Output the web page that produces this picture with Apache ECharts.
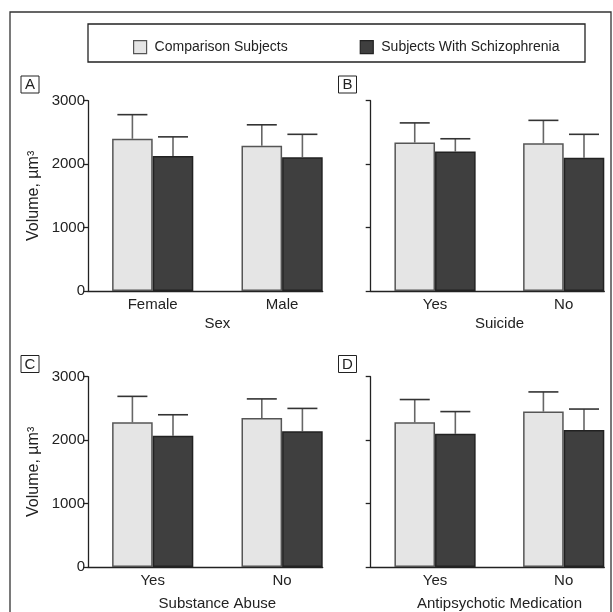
<!DOCTYPE html>
<html>
<head>
<meta charset="utf-8">
<script src="https://cdn.jsdelivr.net/npm/echarts@6/dist/echarts.min.js"></script>
<style>
  html, body { margin: 0; padding: 0; background: #fff; }
  #chart { width: 613px; height: 612px; }
</style>
</head>
<body>
<div id="chart"></div>
<script>
// ---------------- data ----------------
const seriesNames = ['Comparison Subjects', 'Subjects With Schizophrenia'];
const yTicks = [0, 1000, 2000, 3000];

const sexCategories = ['Female', 'Male'];
const sexComparison = [2400, 2290];
const sexComparisonSD = [380, 330];
const sexSchizophrenia = [2130, 2110];
const sexSchizophreniaSD = [300, 360];

const suicideCategories = ['Yes', 'No'];
const suicideComparison = [2340, 2330];
const suicideComparisonSD = [310, 360];
const suicideSchizophrenia = [2200, 2100];
const suicideSchizophreniaSD = [200, 370];

const abuseCategories = ['Yes', 'No'];
const abuseComparison = [2280, 2350];
const abuseComparisonSD = [410, 300];
const abuseSchizophrenia = [2070, 2140];
const abuseSchizophreniaSD = [330, 360];

const medCategories = ['Yes', 'No'];
const medComparison = [2280, 2450];
const medComparisonSD = [360, 310];
const medSchizophrenia = [2100, 2160];
const medSchizophreniaSD = [350, 330];

const panelTitles = ['Sex', 'Suicide', 'Substance Abuse', 'Antipsychotic Medication'];
const panelLetters = ['A', 'B', 'C', 'D'];

// ---------------- layout / style ----------------
const FONT = '"Liberation Sans", Arial, sans-serif';
const FS = 15;
const BAR_W = 40.6;
const CAP_W = 30;
const groupPos = [0.5, 1.5];
const compColor = '#e5e5e5';
const schizColor = '#3f3f3f';

const grids = [
  { left: 88, top: 100.7, width: 234.7, height: 190.3 },
  { left: 370.7, top: 100.7, width: 233.6, height: 190.3 },
  { left: 88, top: 376.7, width: 234.7, height: 191 },
  { left: 370.7, top: 376.7, width: 233.6, height: 191 }
];
const letterBoxes = [
  { x: 21, y: 76 }, { x: 338.5, y: 76 }, { x: 21, y: 355.5 }, { x: 338.5, y: 355.5 }
];

const panels = [
  { cats: sexCategories, comp: sexComparison, compSD: sexComparisonSD, sch: sexSchizophrenia, schSD: sexSchizophreniaSD },
  { cats: suicideCategories, comp: suicideComparison, compSD: suicideComparisonSD, sch: suicideSchizophrenia, schSD: suicideSchizophreniaSD },
  { cats: abuseCategories, comp: abuseComparison, compSD: abuseComparisonSD, sch: abuseSchizophrenia, schSD: abuseSchizophreniaSD },
  { cats: medCategories, comp: medComparison, compSD: medComparisonSD, sch: medSchizophrenia, schSD: medSchizophreniaSD }
];

const chart = echarts.init(document.getElementById('chart'), null, { renderer: 'canvas' });

const xAxes = [], yAxes = [], series = [], gridOpts = [];
panels.forEach((p, i) => {
  const g = grids[i];
  const unit = (g.width - BAR_W) / 1.5;
  const xMax = g.width / unit;
  gridOpts.push({ left: g.left, top: g.top, width: g.width, height: g.height, containLabel: false });
  xAxes.push({
    type: 'value', gridIndex: i, min: 0, max: xMax,
    axisLine: { show: true, onZero: false, lineStyle: { color: '#222', width: 1.3 } },
    axisTick: { show: false },
    splitLine: { show: false },
    axisLabel: {
      customValues: groupPos,
      formatter: (v) => { const k = groupPos.indexOf(v); return k >= 0 ? p.cats[k] : ''; },
      color: '#222', fontFamily: FONT, fontSize: FS, margin: 6
    },
    name: panelTitles[i], nameLocation: 'middle', nameGap: i < 2 ? 25 : 29,
    nameTextStyle: { color: '#222', fontFamily: FONT, fontSize: FS, padding: [0, 0, 0, 24] }
  });
  const showLabels = (i % 2 === 0);
  yAxes.push({
    type: 'value', gridIndex: i, min: yTicks[0], max: yTicks[yTicks.length - 1], interval: 1000,
    axisLine: { show: true, lineStyle: { color: '#222', width: 1.3 } },
    axisTick: { show: true, length: 5, lineStyle: { color: '#222', width: 1.3 } },
    splitLine: { show: false },
    axisLabel: { show: showLabels, color: '#222', fontFamily: FONT, fontSize: FS, margin: 3,
      formatter: (v) => String(v) },
    name: showLabels ? 'Volume, µm³' : '',
    nameLocation: 'middle', nameGap: 46, nameRotate: 90,
    nameTextStyle: { color: '#222', fontFamily: FONT, fontSize: 16 }
  });
  const compData = groupPos.map((x, k) => [x, p.comp[k]]);
  const schData = groupPos.map((x, k) => [x, p.sch[k]]);
  series.push({
    name: seriesNames[0], type: 'bar', xAxisIndex: i, yAxisIndex: i,
    data: compData, barWidth: BAR_W, barGap: '0%',
    itemStyle: { color: compColor, borderColor: '#555', borderWidth: 1.5 },
    z: 2
  });
  series.push({
    name: seriesNames[1], type: 'bar', xAxisIndex: i, yAxisIndex: i,
    data: schData, barWidth: BAR_W, barGap: '0%',
    itemStyle: { color: schizColor, borderColor: '#222', borderWidth: 1.5 },
    z: 2
  });
  const errData = [];
  groupPos.forEach((x, k) => {
    errData.push([x, p.comp[k], p.compSD[k], -1]);
    errData.push([x, p.sch[k], p.schSD[k], 1]);
  });
  series.push({
    type: 'custom', xAxisIndex: i, yAxisIndex: i, z: 1,
    encode: { x: 0, y: 1 },
    silent: true,
    data: errData,
    renderItem: (params, api) => {
      const x = api.value(0), y = api.value(1), sd = api.value(2), side = api.value(3);
      const base = api.coord([x, y]);
      const top = api.coord([x, y + sd]);
      const cx = base[0] + side * BAR_W / 2;
      return {
        type: 'group',
        children: [
          { type: 'line', shape: { x1: cx, y1: base[1], x2: cx, y2: top[1] },
            style: { stroke: '#666', lineWidth: 1.6 } },
          { type: 'line', shape: { x1: cx - CAP_W / 2, y1: top[1], x2: cx + CAP_W / 2, y2: top[1] },
            style: { stroke: '#333', lineWidth: 1.6 } }
        ]
      };
    }
  });
});

const graphics = [
  { type: 'rect', shape: { x: 10, y: 12, width: 601, height: 650 },
    style: { fill: 'none', stroke: '#333', lineWidth: 1.3 }, silent: true },
  { type: 'rect', shape: { x: 88, y: 24, width: 497, height: 38 },
    style: { fill: 'none', stroke: '#222', lineWidth: 1.3 }, silent: true }
];
panelLetters.forEach((L, i) => {
  const b = letterBoxes[i];
  graphics.push({ type: 'rect', shape: { x: b.x, y: b.y, width: 18, height: 17 },
    style: { fill: '#fff', stroke: '#222', lineWidth: 1 }, silent: true });
  graphics.push({ type: 'text', x: b.x + 9, y: b.y + 9,
    style: { text: L, fill: '#222', font: '15px ' + FONT, textAlign: 'center', textVerticalAlign: 'middle' },
    silent: true });
});

chart.setOption({
  animation: false,
  backgroundColor: '#fff',
  grid: gridOpts,
  xAxis: xAxes,
  yAxis: yAxes,
  legend: {
    data: seriesNames,
    left: 128, top: 35, width: 470, orient: 'horizontal',
    icon: 'rect', itemWidth: 13, itemHeight: 13, itemGap: 72,
    itemStyle: { borderWidth: 1.2 },
    textStyle: { color: '#222', fontFamily: FONT, fontSize: 14, padding: [0, 0, 0, 3] },
    selectedMode: false
  },
  graphic: graphics,
  series: series
});
</script>
</body>
</html>
